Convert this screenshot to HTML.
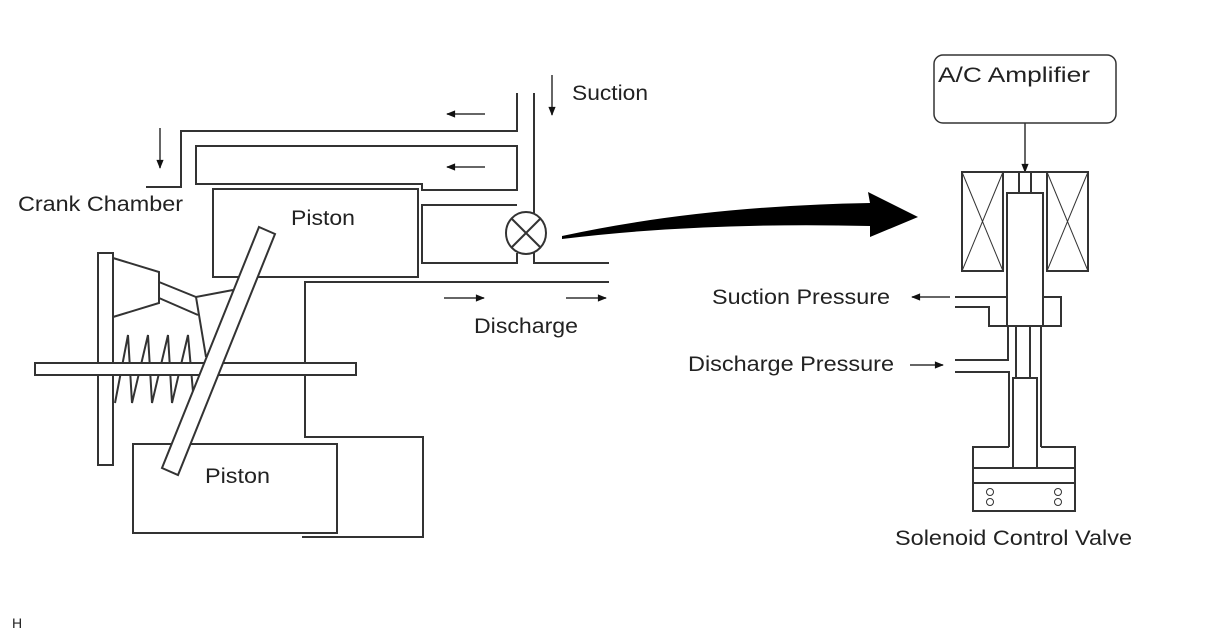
<!DOCTYPE html>
<html><head><meta charset="utf-8"><style>
html,body{margin:0;padding:0;background:#fff;}
svg{display:block;}
text{font-family:"Liberation Sans",sans-serif;fill:#222;}
</style></head><body>
<svg width="1208" height="644" viewBox="0 0 1208 644" xmlns="http://www.w3.org/2000/svg">
<defs>
<marker id="ah" viewBox="0 0 10 10" refX="9" refY="5" markerWidth="8" markerHeight="6" orient="auto"><path d="M0,1 L10,5 L0,9 z" fill="#111"/></marker>
</defs>
<g fill="none" stroke="#333" stroke-width="2">
<polyline points="146,187 181,187 181,131 517,131 517,93"/>
<line x1="534" y1="93" x2="534" y2="213"/>
<polygon points="196,146 517,146 517,190 422,190 422,184 196,184"/>
<rect x="213" y="189" width="205" height="88"/>
<polyline points="517,205 422,205 422,263 517,263 517,253"/>
<polyline points="534,253 534,263 609,263"/>
<ellipse cx="526" cy="233" rx="20" ry="21"/>
<line x1="512" y1="219" x2="540" y2="247"/>
<line x1="540" y1="219" x2="512" y2="247"/>
<polyline points="609,282 305,282 305,437 423,437 423,537 302,537"/>
<rect x="133" y="444" width="204" height="89"/>
<rect x="98" y="253" width="15" height="212"/>
<polyline points="113,258 159,272 159,303 113,317"/>
<polyline points="159,282 196,297 233,290"/>
<line x1="159" y1="298" x2="198" y2="315"/>
<line x1="196" y1="297" x2="206" y2="357"/>
<polyline points="115,403 128,335 132,403 148,335 152,403 168,335 172,403 188,335 194,403"/>
<rect x="35" y="363" width="321" height="12" fill="#fff"/>
<polygon points="259,227 275,234 178,475 162,468" fill="#fff"/>
</g>
<g stroke="#333" stroke-width="1.5" marker-end="url(#ah)">
<line x1="485" y1="114" x2="447" y2="114"/>
<line x1="485" y1="167" x2="447" y2="167"/>
<line x1="160" y1="128" x2="160" y2="168"/>
<line x1="552" y1="75" x2="552" y2="115"/>
<line x1="444" y1="298" x2="484" y2="298"/>
<line x1="566" y1="298" x2="606" y2="298"/>
<line x1="950" y1="297" x2="912" y2="297"/>
<line x1="910" y1="365" x2="943" y2="365"/>
<line x1="1025" y1="123" x2="1025" y2="172"/>
</g>
<path d="M562,236 Q700,206 870,203 L868,192 L918,217 L870,237 L870,226 Q700,222 562,239 Z" fill="#000"/>
<g fill="none" stroke="#333" stroke-width="2">
<rect x="934" y="55" width="182" height="68" rx="9" stroke-width="1.5"/>
<rect x="962" y="172" width="41" height="99"/>
<rect x="1047" y="172" width="41" height="99"/>
<g stroke-width="1"><line x1="962" y1="172" x2="1003" y2="271"/><line x1="1003" y1="172" x2="962" y2="271"/>
<line x1="1047" y1="172" x2="1088" y2="271"/><line x1="1088" y1="172" x2="1047" y2="271"/></g>
<line x1="1003" y1="172" x2="1047" y2="172"/>
<rect x="1019" y="172" width="12" height="21"/>
<rect x="1007" y="193" width="36" height="133"/>
<polyline points="955,297 1007,297"/>
<polyline points="955,307 989,307 989,326 1061,326 1061,297 1043,297"/>
<polyline points="1008,326 1008,360 955,360"/>
<polyline points="955,372 1009,372 1009,447"/>
<line x1="1041" y1="326" x2="1041" y2="447"/>
<line x1="1016" y1="326" x2="1016" y2="378"/>
<line x1="1030" y1="326" x2="1030" y2="378"/>
<rect x="1013" y="378" width="24" height="90"/>
<polyline points="1009,447 973,447 973,511 1075,511 1075,447 1041,447"/>
<line x1="973" y1="468" x2="1075" y2="468"/>
<line x1="973" y1="483" x2="1075" y2="483"/>
<g stroke-width="1"><circle cx="990" cy="492" r="3.5"/><circle cx="990" cy="502" r="3.5"/><circle cx="1058" cy="492" r="3.5"/><circle cx="1058" cy="502" r="3.5"/></g>
</g>
<g font-size="21" lengthAdjust="spacingAndGlyphs">
<text x="18" y="211" textLength="165" lengthAdjust="spacingAndGlyphs">Crank Chamber</text>
<text x="291" y="225" textLength="64" lengthAdjust="spacingAndGlyphs">Piston</text>
<text x="205" y="483" textLength="65" lengthAdjust="spacingAndGlyphs">Piston</text>
<text x="572" y="100" textLength="76" lengthAdjust="spacingAndGlyphs">Suction</text>
<text x="474" y="333" textLength="104" lengthAdjust="spacingAndGlyphs">Discharge</text>
<text x="938" y="82" textLength="152" lengthAdjust="spacingAndGlyphs">A/C Amplifier</text>
<text x="712" y="304" textLength="178" lengthAdjust="spacingAndGlyphs">Suction Pressure</text>
<text x="688" y="371" textLength="206" lengthAdjust="spacingAndGlyphs">Discharge Pressure</text>
<text x="895" y="545" textLength="237" lengthAdjust="spacingAndGlyphs">Solenoid Control Valve</text>
</g>
<text x="12" y="628" font-size="14">H</text>
</svg>
</body></html>
